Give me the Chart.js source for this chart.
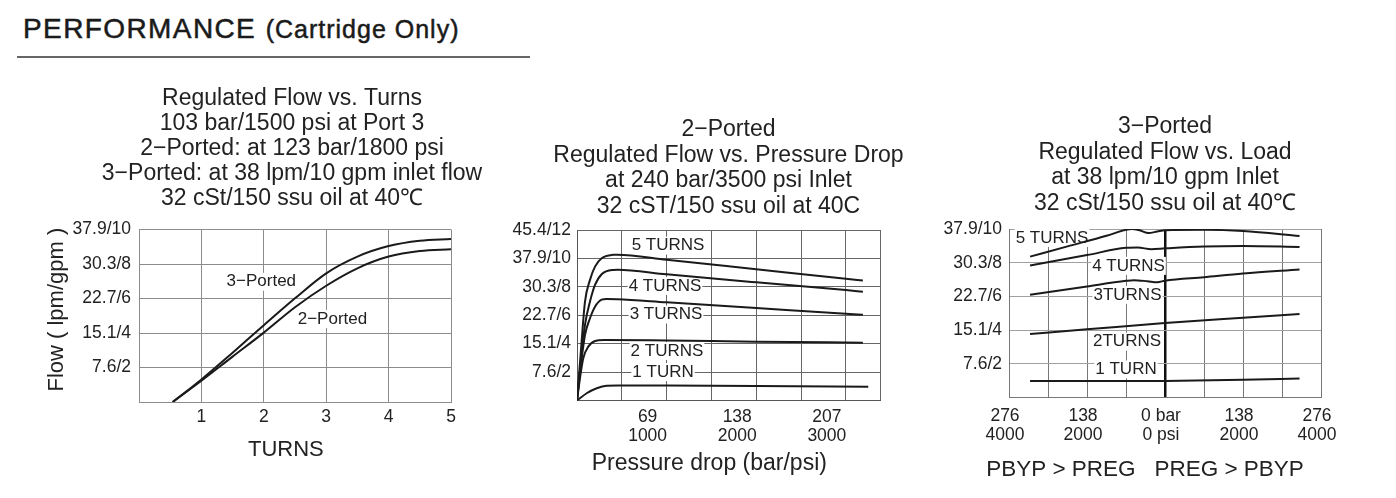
<!DOCTYPE html>
<html>
<head>
<meta charset="utf-8">
<script src="https://cdn.jsdelivr.net/npm/chart.js@4.4.1/dist/chart.umd.min.js"></script>
<style>
  body { margin: 0; background: #fff; width: 1396px; height: 498px; overflow: hidden; position: relative;
         font-family: "Liberation Sans", Arial, Helvetica, sans-serif; }
  canvas { position: absolute; }
  #head { position: absolute; left: 23px; top: 14.5px; line-height: 28px; color: #1a1a1a; white-space: nowrap;
          -webkit-text-stroke: 0.5px #1a1a1a; }
  #head .big { font-size: 28px; letter-spacing: 1.4px; }
  #head .small { font-size: 25px; letter-spacing: 1px; margin-left: 5px; }
  #rule { position: absolute; left: 17px; top: 56px; width: 513px; height: 1.5px; background: #666; }
</style>
</head>
<body>
<div id="head"><span class="big">PERFORMANCE</span> <span class="small">(Cartridge Only)</span></div>
<div id="rule"></div>
<canvas id="turnsChart" width="524" height="380" style="left:30px;top:84px"></canvas>
<canvas id="dropChart" width="457" height="378" style="left:500px;top:100px"></canvas>
<canvas id="loadChart" width="430" height="385" style="left:930px;top:100px"></canvas>
<script>
// ---- chart 1: regulated flow vs. turns  [turns, gpm]
const turnsTicks = [0, 1, 2, 3, 4, 5];
const turnsTickLabels = ['', '1', '2', '3', '4', '5'];
const flowTicks = [0, 2, 4, 6, 8, 10];
const flowTickLabels = ['', '7.6/2', '15.1/4', '22.7/6', '30.3/8', '37.9/10'];
const turns3Ported = [[0.54, 0], [1, 1.31], [1.5, 2.86], [2, 4.45], [2.5, 6.01], [3, 7.46], [3.5, 8.43], [4, 9.04], [4.5, 9.35], [5, 9.45]];
const turns2Ported = [[0.54, 0], [1, 1.23], [1.5, 2.63], [2, 4.02], [2.5, 5.49], [3, 6.74], [3.5, 7.75], [4, 8.43], [4.5, 8.75], [5, 8.85]];
const turnsLabelText = ['3\u2212Ported', '2\u2212Ported'];
const turnsLabelAt = [[1.96, 6.97], [3.1, 4.81]];
const turnsTitle = ['Regulated Flow vs. Turns', '103 bar/1500 psi at Port 3', '2\u2212Ported: at 123 bar/1800 psi',
                    '3\u2212Ported: at 38 lpm/10 gpm inlet flow', '32 cSt/150 ssu oil at 40\u2103'];

// ---- chart 2: 2-ported, regulated flow vs. pressure drop  [psi, gpm]
const dropTicks = [0, 500, 1000, 1500, 2000, 2500, 3000, 3381];
const dropTickLabels = ['', '', ['69', '1000'], '', ['138', '2000'], '', ['207', '3000'], ''];
const dropFlowTicks = [0, 2, 4, 6, 8, 10, 12];
const dropFlowLabels = ['', '7.6/2', '15.1/4', '22.7/6', '30.3/8', '37.9/10', '45.4/12'];
const drop5Turns = [[0, 0], [40, 3.2], [89, 6.95], [145, 8.49], [201, 9.42], [275, 10.01], [405, 10.25], [450, 10.26], [1000, 9.91], [2000, 9.24], [3000, 8.57], [3190, 8.44]];
const drop4Turns = [[0, 0], [40, 2.6], [89, 5.32], [145, 6.96], [201, 8.13], [275, 8.89], [405, 9.19], [450, 9.2], [1000, 8.88], [2000, 8.32], [3000, 7.77], [3190, 7.66]];
const drop3Turns = [[0, 0], [40, 2.3], [89, 4.6], [145, 5.79], [201, 6.6], [275, 7.1], [330, 7.15], [450, 7.13], [1000, 6.91], [2000, 6.51], [3000, 6.11], [3190, 6.03]];
const drop2Turns = [[0, 0], [33, 1.56], [70, 2.97], [126, 3.79], [201, 4.19], [300, 4.26], [1000, 4.22], [2000, 4.14], [3190, 4.07]];
const drop1Turn = [[0, 0], [108, 0.51], [220, 0.86], [331, 1.04], [450, 1.06], [1000, 1.05], [2000, 1.02], [3250, 0.97]];
const dropLabelText = ['5 TURNS', '4 TURNS', '3 TURNS', '2 TURNS', '1 TURN'];
const dropLabelAt = [[1016, 10.9], [982, 8.06], [993, 6.05], [1004, 3.48], [960, 2.0]];
const dropTitle = ['2\u2212Ported', 'Regulated Flow vs. Pressure Drop', 'at 240 bar/3500 psi Inlet', '32 cST/150 ssu oil at 40C'];

// ---- chart 3: 3-ported, regulated flow vs. load  [psi (PBYP>PREG negative), gpm]
const loadTicks = [-4000, -3000, -2000, -1000, 0, 1000, 2000, 3000, 4000];
const loadTickLabels = [['276', '4000'], '', ['138', '2000'], '', ['0 bar', '0 psi'], '', ['138', '2000'], '', ['276', '4000']];
const loadFlowTicks = [0, 2, 4, 6, 8, 10];
const loadFlowLabels = ['', '7.6/2', '15.1/4', '22.7/6', '30.3/8', '37.9/10'];
const load5Turns = [[-3460, 8.36], [-2500, 8.97], [-1500, 9.6], [-1000, 9.95], [-850, 10.0], [-650, 9.92], [-420, 9.76], [-200, 9.85], [0, 9.93], [1000, 9.95], [2000, 9.88], [3450, 9.58]];
const load4Turns = [[-3460, 7.83], [-2000, 8.45], [-1000, 8.88], [-700, 8.9], [-350, 8.8], [0, 8.85], [1000, 8.96], [2000, 8.99], [3450, 8.93]];
const load3Turns = [[-3460, 6.09], [-2000, 6.59], [-1000, 6.92], [-800, 6.96], [-450, 6.9], [-200, 6.84], [0, 6.93], [1000, 7.14], [2000, 7.36], [3450, 7.6]];
const load2Turns = [[-3460, 3.77], [-2000, 4.04], [0, 4.42], [2000, 4.73], [3450, 4.95]];
const load1Turn = [[-3460, 0.97], [-1000, 0.97], [0, 0.98], [2000, 1.05], [3450, 1.12]];
const loadLabelText = ['5 TURNS', '4 TURNS', '3TURNS', '2TURNS', '1 TURN'];
const loadLabelAt = [[-2897, 9.47], [-936, 7.81], [-962, 6.09], [-974, 3.31], [-1000, 1.66]];
const loadTitle = ['3\u2212Ported', 'Regulated Flow vs. Load', 'at 38 lpm/10 gpm Inlet', '32 cSt/150 ssu oil at 40\u2103'];

Chart.defaults.font.family = '"Liberation Sans", Arial, Helvetica, sans-serif';
Chart.defaults.color = '#222';

function pts(arr) {
    return arr.map(p => ({ x: p[0], y: p[1] }));
}

function curve(arr) {
    return {
        data: pts(arr),
        borderColor: '#1a1a1a',
        borderWidth: 2,
        pointRadius: 0,
        fill: false,
        cubicInterpolationMode: 'monotone'
    };
}

function fixedTicks(values) {
    return axis => { axis.ticks = values.map(v => ({ value: v })); };
}

// text next to the curves, with a white box that hides the grid behind it
const curveLabels = {
    id: 'curveLabels',
    beforeDatasetsDraw(chart, args, opts) {
        const { ctx, scales: { x, y } } = chart;
        ctx.save();
        ctx.font = '17px "Liberation Sans", Arial, sans-serif';
        ctx.textAlign = 'center';
        ctx.textBaseline = 'middle';
        opts.text.forEach((t, i) => {
            const px = x.getPixelForValue(opts.at[i][0]);
            const py = y.getPixelForValue(opts.at[i][1]);
            const w = ctx.measureText(t).width;
            ctx.fillStyle = '#fff';
            ctx.fillRect(px - w / 2 - 1, py - 9, w + 2, 18);
            ctx.fillStyle = '#222';
            ctx.fillText(t, px, py);
        });
        ctx.restore();
    }
};

function buildChart(id, s) {
    return new Chart(document.getElementById(id), {
        type: 'line',
        data: { datasets: s.series.map(curve) },
        options: {
            responsive: false,
            animation: false,
            layout: { padding: 0 },
            plugins: {
                legend: { display: false },
                tooltip: { enabled: false },
                title: {
                    display: true,
                    fullSize: s.titleFull,
                    text: s.title,
                    color: '#222',
                    font: { size: 23, weight: 'normal', lineHeight: s.titleLine / 23 },
                    padding: s.titlePad
                },
                subtitle: {
                    display: !!s.bottomText,
                    position: 'bottom',
                    fullSize: true,
                    text: s.bottomText || '',
                    color: '#222',
                    font: { size: 22.5, weight: 'normal' },
                    padding: { top: 8.8, bottom: 1.8 }
                },
                curveLabels: { text: s.labelText, at: s.labelAt }
            },
            scales: {
                x: {
                    type: 'linear',
                    min: s.xTicks[0],
                    max: s.xTicks[s.xTicks.length - 1],
                    afterBuildTicks: fixedTicks(s.xTicks),
                    afterFit: axis => { axis.height = s.xHeight; },
                    grid: { color: s.gridX, lineWidth: s.gridXWidth || 1, drawTicks: false },
                    border: { color: s.frame, width: 1 },
                    ticks: {
                        padding: s.xPad,
                        labelOffset: s.xOffset,
                        maxRotation: 0,
                        autoSkip: false,
                        font: { size: 17.5, lineHeight: s.xTickLine },
                        callback: (v, i) => s.xLabels[i]
                    },
                    title: {
                        display: !!s.xTitle,
                        text: s.xTitle || '',
                        font: { size: s.xTitleSize },
                        padding: { top: 0, bottom: s.xTitlePad }
                    }
                },
                y: {
                    min: s.yTicks[0],
                    max: s.yTicks[s.yTicks.length - 1],
                    afterBuildTicks: fixedTicks(s.yTicks),
                    afterFit: axis => { axis.width = s.yWidth; },
                    grid: { color: s.gridY, drawTicks: false },
                    border: { color: s.frame, width: 1 },
                    ticks: {
                        padding: s.yPad,
                        autoSkip: false,
                        font: { size: 17.5 },
                        callback: (v, i) => s.yLabels[i]
                    },
                    title: {
                        display: !!s.yTitle,
                        text: s.yTitle,
                        font: { size: 22 },
                        padding: { top: 13.8, bottom: 0 }
                    }
                },
                // empty strip on the right so the titles centre where the original has them
                gap: {
                    type: 'linear',
                    position: 'right',
                    afterFit: axis => { axis.width = s.rightGap; },
                    grid: { display: false, drawTicks: false },
                    border: { display: false },
                    ticks: { display: false }
                }
            }
        },
        plugins: [curveLabels]
    });
}

buildChart('turnsChart', {
    series: [turns3Ported, turns2Ported],
    title: turnsTitle, titleFull: true, titleLine: 25, titlePad: { top: 2, bottom: 18.5 },
    labelText: turnsLabelText, labelAt: turnsLabelAt,
    xTicks: turnsTicks, xLabels: turnsTickLabels, xHeight: 62, xPad: 4.5, xOffset: 0, xTickLine: 1.2,
    xTitle: 'TURNS   ', xTitleSize: 22, xTitlePad: 0.8,
    yTicks: flowTicks, yLabels: flowTickLabels, yWidth: 109, yPad: 8,
    yTitle: '  Flow ( lpm/gpm )', rightGap: 103,
    gridX: '#8c8c8c', gridY: '#8c8c8c', frame: '#8c8c8c'
});

buildChart('dropChart', {
    series: [drop5Turns, drop4Turns, drop3Turns, drop2Turns, drop1Turn],
    title: dropTitle, titleFull: true, titleLine: 25.5, titlePad: { top: 17.25, bottom: 10.75 },
    labelText: dropLabelText, labelAt: dropLabelAt,
    xTicks: dropTicks, xLabels: dropTickLabels, xHeight: 77.5, xPad: 6.7, xOffset: -19, xTickLine: 19 / 17.5,
    xTitle: 'Pressure drop (bar/psi)      ', xTitleSize: 23, xTitlePad: 0.9,
    yTicks: dropFlowTicks, yLabels: dropFlowLabels, yWidth: 77, yPad: 6,
    yTitle: '', rightGap: 77,
    gridX: '#666', gridY: '#666', frame: '#555'
});

buildChart('loadChart', {
    series: [load5Turns, load4Turns, load3Turns, load2Turns, load1Turn],
    title: loadTitle, titleFull: false, titleLine: 25.5, titlePad: { top: 13.95, bottom: 13.05 },
    labelText: loadLabelText, labelAt: loadLabelAt,
    xTicks: loadTicks, xLabels: loadTickLabels, xHeight: 50, xPad: 9.2, xOffset: -4, xTickLine: 19 / 17.5,
    xTitle: '', bottomText: 'PBYP > PREG   PREG > PBYP',
    yTicks: loadFlowTicks, yLabels: loadFlowLabels, yWidth: 79, yPad: 7,
    yTitle: '', rightGap: 39,
    gridX: c => (c.tick && c.tick.value === 0 ? '#111' : '#777'),
    gridXWidth: c => (c.tick && c.tick.value === 0 ? 2.5 : 1),
    gridY: '#a0a0a0', frame: '#777'
});
</script>
</body>
</html>
